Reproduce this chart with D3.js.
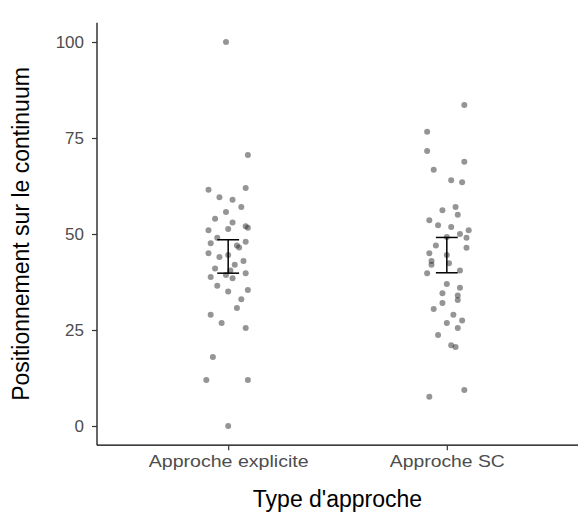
<!DOCTYPE html>
<html lang="en">
  <head>
    <meta charset="utf-8">
    <title>Positionnement par type d'approche</title>
    <script src="https://cdn.jsdelivr.net/npm/d3@7"></script>
    <style>
      body { margin: 0; background: #fff; }
      text { font-family: 'Liberation Sans', Arial, sans-serif; }
    </style>
  </head>
  <body>
    <div id='main'></div>
  </body>

  <script type='text/javascript'>

      // categories and tick labels
      const categories = ['Approche explicite', 'Approche SC'];
      const yTicks = [0, 25, 50, 75, 100];

      // values per group
      const explicitValues = [100, 70.6, 61.5, 62, 59.6, 58.9, 55.7, 53, 51, 51.3, 51.6, 52,
        47.6, 48, 45, 44, 44.5, 43, 38.8, 39.3, 38.5, 39.8, 35.4, 35, 30.7, 29, 26.8, 25.5,
        18, 12, 12, 0, 57, 49, 46.5, 41, 42, 36.5, 33, 54, 47, 40.5];
      // horizontal jitter (fraction of category step)
      const explicitJitter = [-0.01, 0.09, -0.09, 0.08, -0.04, 0.02, -0.01, 0.02, -0.09, 0, 0.09, 0.08,
        -0.08, 0.08, -0.09, -0.04, 0, 0.07, -0.08, -0.01, 0.02, 0.08, 0.09, 0, 0.04, -0.08, -0.03, 0.08,
        -0.07, -0.1, 0.09, 0, 0.06, -0.05, 0.05, -0.06, 0.03, -0.05, 0.06, -0.06, 0.04, 0.01];

      const scValues = [83.6, 76.6, 71.6, 68.8, 66.7, 64, 63.5, 56.2, 53.6, 52.3, 55, 51.8, 51,
        49.2, 49, 45, 44.5, 46.4, 42, 42.4, 39.8, 43, 37, 36, 34.6, 34, 32, 32.8, 29, 26.8, 25.5,
        23.7, 20.6, 21, 7.6, 9.4, 47, 40.5, 30.5, 27.5, 57, 50];
      const scJitter = [0.08, -0.09, -0.09, 0.08, -0.06, 0.02, 0.07, -0.02, -0.08, -0.04, 0.05, 0.02, 0.1,
        0, 0.09, -0.08, 0, 0.09, -0.07, 0.01, -0.09, -0.07, 0, 0.06, -0.02, 0.05, -0.02, 0.05, 0.03, 0, 0.05,
        -0.04, 0.04, 0.02, -0.08, 0.08, -0.05, 0.06, -0.06, 0.07, 0.04, 0.06];

      // mean and confidence interval per group
      const groupMeans = [44.2, 44.5];
      const ciLow = [39.8, 39.9];
      const ciHigh = [48.5, 49.1];

      const W = 578, H = 515;
      const margin = {left: 97, right: 0, top: 0, bottom: 70};

      const svg = d3.select('#main').append('svg')
        .attr('width', W)
        .attr('height', H);

      // ggplot-like discrete axis: categories at 1 and 2, expanded by 0.6
      const x = d3.scaleLinear().domain([0.4, 2.6]).range([margin.left, W - margin.right]);
      const y = d3.scaleLinear().domain([-5, 105]).range([445.2, 22.8]);

      const points = [];
      explicitValues.forEach((v, i) => points.push({g: 1, v: v, j: explicitJitter[i]}));
      scValues.forEach((v, i) => points.push({g: 2, v: v, j: scJitter[i]}));

      // jittered points
      svg.append('g').selectAll('circle')
        .data(points)
        .enter()
        .append('circle')
        .attr('cx', d => x(d.g + d.j))
        .attr('cy', d => y(d.v))
        .attr('r', 3)
        .style('fill', '#2b2b2b')
        .style('opacity', 0.5);

      // error bars
      const eb = svg.append('g').selectAll('g')
        .data(categories.map((c, i) => ({g: i + 1, lo: ciLow[i], hi: ciHigh[i], m: groupMeans[i]})))
        .enter()
        .append('g')
        .attr('stroke', '#000')
        .attr('stroke-width', 1.5);
      eb.append('line')
        .attr('x1', d => x(d.g)).attr('x2', d => x(d.g))
        .attr('y1', d => y(d.lo)).attr('y2', d => y(d.hi));
      eb.append('line')
        .attr('x1', d => x(d.g - 0.05)).attr('x2', d => x(d.g + 0.05))
        .attr('y1', d => y(d.lo)).attr('y2', d => y(d.lo));
      eb.append('line')
        .attr('x1', d => x(d.g - 0.05)).attr('x2', d => x(d.g + 0.05))
        .attr('y1', d => y(d.hi)).attr('y2', d => y(d.hi));

      // axes
      const yAxis = svg.append('g')
        .attr('transform', `translate(${margin.left},0)`)
        .call(d3.axisLeft(y).tickValues(yTicks).tickSize(5).tickPadding(8));
      const xAxis = svg.append('g')
        .attr('transform', `translate(0,${y(-5)})`)
        .call(d3.axisBottom(x).tickValues([1, 2]).tickFormat((d) => categories[d - 1]).tickSize(5).tickPadding(5));

      [yAxis, xAxis].forEach(a => {
        a.select('.domain').attr('stroke', '#000').attr('stroke-width', 1.2);
        a.selectAll('.tick line').attr('stroke', '#333').attr('stroke-width', 1.2);
        a.selectAll('.tick text').attr('fill', '#4d4d4d').attr('font-size', '17px');
      });
      xAxis.selectAll('.tick text').attr('textLength', (d) => d === 1 ? 160 : 115)
        .attr('lengthAdjust', 'spacingAndGlyphs');
      xAxis.select('.domain').attr('d', `M${margin.left},0H${W}`);
      yAxis.select('.domain').attr('d', `M0,${y(105)}V${y(-5)}`);

      // axis titles
      svg.append('text')
        .attr('x', x(1.5))
        .attr('y', 507)
        .attr('text-anchor', 'middle')
        .attr('font-size', '23px')
        .attr('fill', '#000')
        .text("Type d'approche");

      svg.append('text')
        .attr('transform', `translate(29,${y(50)}) rotate(-90)`)
        .attr('text-anchor', 'middle')
        .attr('font-size', '23px')
        .attr('fill', '#000')
        .text('Positionnement sur le continuum');

  </script>
</html>
